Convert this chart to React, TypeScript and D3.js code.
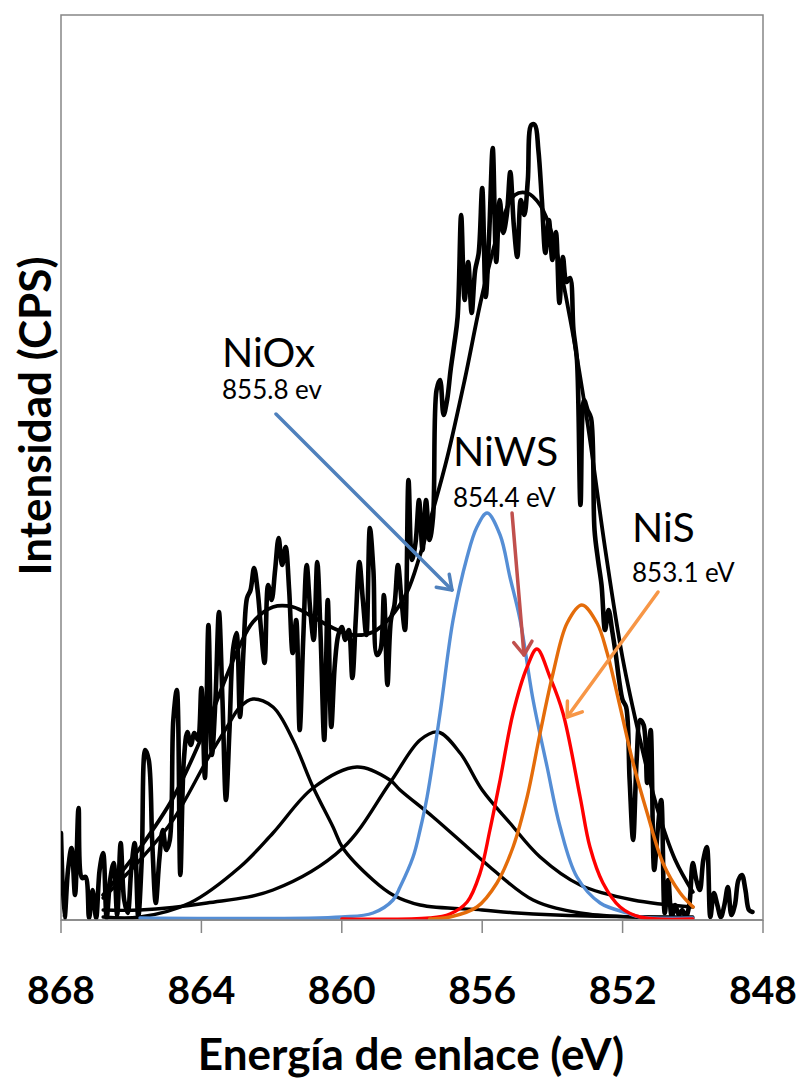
import React from 'react';
import * as d3 from 'd3';

// ---- Data (binding energy in eV, intensity in arbitrary CPS units) ----
const SPECTRUM_START_EV = 868.0;
const SPECTRUM_STEP_EV = 0.1;
const spectrumCounts = [
  87, 2, 50, 72, 25, 112, 42, 43, 2, 30, 2, 50, 67, 2, 40, 57, 5, 77, 20, 7,
  50, 77, 3, 60, 170, 160, 77, 17, 60, 90, 70, 80, 200, 230, 45, 160, 188, 175, 187, 180,
  232, 142, 295, 165, 220, 308, 220, 120, 190, 270, 287, 203, 270, 322, 330, 352, 330, 290, 257, 335,
  320, 350, 382, 355, 373, 330, 267, 300, 190, 280, 355, 310, 280, 358, 280, 180, 320, 193, 255, 285,
  293, 280, 290, 242, 302, 358, 320, 285, 392, 350, 265, 270, 325, 235, 300, 315, 355, 320, 290, 440,
  360, 377, 420, 370, 420, 380, 403, 530, 540, 505, 520, 550, 575, 603, 705, 620, 658, 607, 650, 667,
  732, 623, 687, 772, 658, 720, 687, 705, 748, 695, 663, 720, 705, 740, 795, 795, 770, 720, 667, 700,
  660, 688, 617, 663, 638, 642, 590, 560, 415, 520, 510, 502, 390, 360, 335, 290, 310, 290, 267, 240,
  220, 213, 140, 80, 160, 200, 195, 137, 190, 50, 90, 120, 7, 40, 3, 15, 5, 10, 3, 15,
  57, 40, 30, 60, 73, 3, 27, 15, 3, 15, 33, 5, 15, 40, 45, 30, 10, 8,
];

const envelopeFit: [number, number][] = [
  [866.8, 25], [865.75, 72], [864.81, 122], [863.84, 195], [863.27, 245], [862.9, 275],
  [862.53, 298], [861.96, 313], [861.39, 313], [860.82, 303], [860.25, 292], [859.68, 285],
  [859.11, 288], [858.63, 302], [858.14, 328], [857.77, 365], [857.4, 410], [857.0, 462],
  [856.5, 540], [856.0, 625], [855.5, 692], [855.07, 725], [854.72, 727], [854.35, 715],
  [854.0, 685], [853.5, 602], [853.0, 497], [852.5, 372], [852.0, 262], [851.5, 180],
  [851.0, 110], [850.5, 60], [850.0, 28],
];

const satellite1Fit: [number, number][] = [
  [866.8, 22], [865.75, 60], [864.81, 100], [863.84, 160], [863.27, 193], [862.9, 213],
  [862.53, 221], [861.96, 213], [861.39, 180], [860.82, 133], [860.25, 93], [859.97, 72],
  [859.11, 40], [858.54, 25], [857.77, 15], [856.0, 10], [855.0, 7], [853.0, 4], [850.0, 3],
];

const satellite2Fit: [number, number][] = [
  [866.8, 3], [865.75, 3], [864.33, 17], [862.9, 53], [861.96, 87], [860.82, 132],
  [859.57, 153], [858.63, 140], [858.34, 130], [857.4, 103], [856.43, 73], [855.78, 53],
  [854.55, 20], [853.21, 7], [851.7, 3], [850.0, 2],
];

const satellite3Fit: [number, number][] = [
  [866.8, 10], [865.75, 10], [863.84, 17], [861.96, 30], [859.97, 72], [858.63, 137],
  [857.77, 180], [857.26, 188], [856.63, 167], [856.0, 130], [855.21, 97], [854.35, 63],
  [853.21, 35], [851.7, 20], [850.0, 13],
];

const niOxFit: [number, number][] = [
  [865.75, 2], [860.0, 3], [859.11, 7], [858.54, 20], [858.34, 33], [857.97, 63],
  [857.77, 90], [857.57, 123], [857.2, 207], [856.83, 300], [856.43, 363], [856.15, 393],
  [855.86, 407], [855.49, 385], [855.21, 343], [854.92, 300], [854.55, 220], [854.15, 153],
  [853.78, 93], [853.3, 43], [852.64, 17], [851.87, 7], [851.5, 3], [850.0, 2],
];

const niWSFit: [number, number][] = [
  [860.0, 1], [857.5, 2], [856.92, 6], [856.43, 18], [856.06, 47], [855.78, 90],
  [855.49, 140], [855.12, 207], [854.72, 253], [854.44, 271], [854.07, 243], [853.7, 207],
  [853.21, 123], [852.93, 73], [852.56, 37], [852.07, 13], [851.5, 3], [850.0, 1],
];

const niSFit: [number, number][] = [
  [857.5, 1], [856.92, 3], [856.15, 13], [855.58, 37], [855.12, 73], [854.72, 123],
  [854.35, 187], [853.98, 247], [853.58, 297], [853.16, 315], [852.73, 297], [852.44, 267],
  [852.07, 213], [851.7, 157], [851.3, 107], [850.85, 57], [850.36, 27], [849.99, 13],
];

const xTicks = [868, 864, 860, 856, 852, 848];

const annotationNames = ['NiOx', 'NiWS', 'NiS'];
const annotationEnergies = ['855.8 ev', '854.4 eV', '853.1 eV'];

// ---- Layout / style ----
const W = 801;
const H = 1081;
const PLOT = { left: 61, right: 763, top: 15, bottom: 920 };
const AXIS_GRAY = '#868686';
const FONT = 'Lato, "Open Sans", sans-serif';

const annotationLayout = [
  { tx: 222, ty: 367, sy: 399, color: '#4F81BD', from: [861.875, 506], to: [856.86, 330] },
  { tx: 453, ty: 466, sy: 507, color: '#C0504D', from: [855.15, 407], to: [854.81, 265] },
  { tx: 632, ty: 542, sy: 582, color: '#F79646', from: [850.99, 328], to: [853.58, 203] },
];

function arrowHead(sx: number, sy: number, tx: number, ty: number, len: number, ang: number) {
  const a = Math.atan2(ty - sy, tx - sx);
  const p1 = [tx - len * Math.cos(a - ang), ty - len * Math.sin(a - ang)];
  const p2 = [tx - len * Math.cos(a + ang), ty - len * Math.sin(a + ang)];
  return `M${p1[0]},${p1[1]}L${tx},${ty}L${p2[0]},${p2[1]}`;
}

export default function App() {
  const x = d3.scaleLinear().domain([868, 848]).range([PLOT.left, PLOT.right]);
  const y = d3.scaleLinear().domain([0, 905]).range([PLOT.bottom, PLOT.top]);

  const smooth = d3
    .line<[number, number]>()
    .x((d) => x(d[0]))
    .y((d) => y(d[1]))
    .curve(d3.curveCatmullRom.alpha(0.5));

  const spectrumPts: [number, number][] = spectrumCounts.map((v, i) => [
    SPECTRUM_START_EV - i * SPECTRUM_STEP_EV,
    v,
  ]);

  const fits: { data: [number, number][]; color: string; w: number }[] = [
    { data: envelopeFit, color: '#000000', w: 3.8 },
    { data: satellite1Fit, color: '#000000', w: 3.4 },
    { data: satellite2Fit, color: '#000000', w: 3.4 },
    { data: satellite3Fit, color: '#000000', w: 3.4 },
    { data: niOxFit, color: '#558ED5', w: 3.4 },
    { data: niWSFit, color: '#FF0000', w: 3.4 },
    { data: niSFit, color: '#E46C0A', w: 3.4 },
  ];

  return (
    <svg
      width={W}
      height={H}
      viewBox={`0 0 ${W} ${H}`}
      style={{ position: 'absolute', left: 0, top: 0, background: '#fff' }}
    >
      <defs>
        <clipPath id="plotClip">
          <rect x={PLOT.left} y={PLOT.top} width={PLOT.right - PLOT.left} height={PLOT.bottom - PLOT.top} />
        </clipPath>
      </defs>
      <rect x={0} y={0} width={W} height={H} fill="#fff" />

      {/* plot area border */}
      <rect
        x={PLOT.left}
        y={PLOT.top}
        width={PLOT.right - PLOT.left}
        height={PLOT.bottom - PLOT.top}
        fill="none"
        stroke={AXIS_GRAY}
        strokeWidth={1.5}
      />

      <g clipPath="url(#plotClip)">
        <path
          d={smooth(spectrumPts) || ''}
          fill="none"
          stroke="#000"
          strokeWidth={4.6}
          strokeLinejoin="round"
          strokeLinecap="round"
        />
        {fits.map((f, i) => (
          <path
            key={i}
            d={smooth(f.data) || ''}
            fill="none"
            stroke={f.color}
            strokeWidth={f.w}
            strokeLinejoin="round"
            strokeLinecap="round"
          />
        ))}
      </g>

      {/* x axis */}
      <line x1={PLOT.left} x2={PLOT.right} y1={PLOT.bottom} y2={PLOT.bottom} stroke={AXIS_GRAY} strokeWidth={1.5} />
      {xTicks.map((t) => (
        <g key={t}>
          <line x1={x(t)} x2={x(t)} y1={PLOT.bottom} y2={PLOT.bottom + 13} stroke={AXIS_GRAY} strokeWidth={1.5} />
          <text
            x={x(t)}
            y={1004}
            textAnchor="middle"
            fontFamily={FONT}
            fontWeight="bold"
            fontSize={39}
            fill="#000"
          >
            {t}
          </text>
        </g>
      ))}

      <text x={411} y={1070} textAnchor="middle" fontFamily={FONT} fontWeight="bold" fontSize={44} fill="#000">
        Energía de enlace (eV)
      </text>
      <text
        transform="translate(51,416) rotate(-90)"
        textAnchor="middle"
        fontFamily={FONT}
        fontWeight="bold"
        fontSize={44}
        fill="#000"
      >
        Intensidad (CPS)
      </text>

      {/* annotations */}
      {annotationLayout.map((a, i) => {
        const sx = x(a.from[0]);
        const sy = y(a.from[1]);
        const tx = x(a.to[0]);
        const ty = y(a.to[1]);
        return (
          <g key={i}>
            <text x={a.tx} y={a.ty} fontFamily={FONT} fontSize={41} fill="#000">
              {annotationNames[i]}
            </text>
            <text x={a.tx} y={a.sy} fontFamily={FONT} fontSize={26} fill="#000">
              {annotationEnergies[i]}
            </text>
            <line x1={sx} y1={sy} x2={tx} y2={ty} stroke={a.color} strokeWidth={3.5} strokeLinecap="round" />
            <path
              d={arrowHead(sx, sy, tx, ty, 16, (35 * Math.PI) / 180)}
              fill="none"
              stroke={a.color}
              strokeWidth={3.5}
              strokeLinecap="round"
              strokeLinejoin="round"
            />
          </g>
        );
      })}
    </svg>
  );
}
